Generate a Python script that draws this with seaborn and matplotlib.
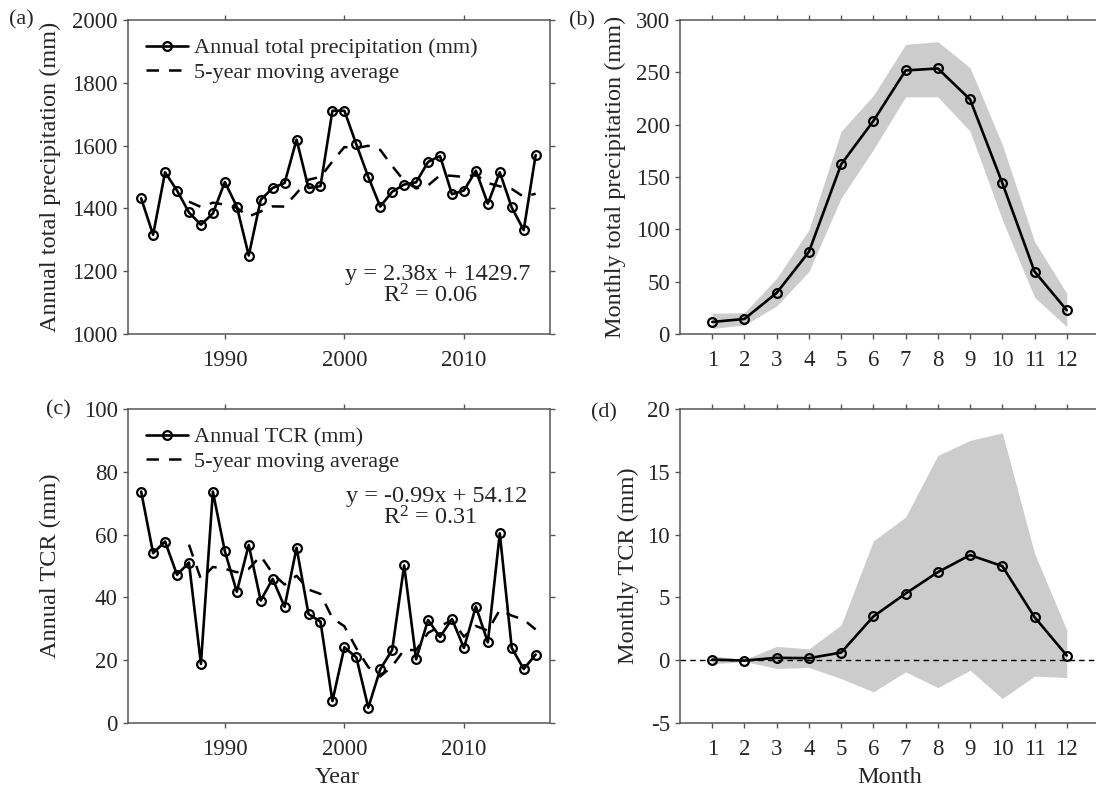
import matplotlib
matplotlib.use("Agg")
import matplotlib.pyplot as plt
import seaborn as sns

# ---------------- data ----------------
years = list(range(1983, 2017))
annual_precip = [1432, 1316, 1515, 1457, 1387, 1348, 1384, 1484, 1406, 1250,
                 1427, 1465, 1481, 1619, 1465, 1471, 1711, 1711, 1604, 1500,
                 1406, 1453, 1476, 1483, 1548, 1567, 1445, 1457, 1520, 1415,
                 1515, 1403, 1331, 1570]
ma_years = list(range(1987, 2017))
precip_ma = [1421.4, 1404.6, 1418.2, 1412.0, 1401.8, 1374.4, 1390.2, 1406.4,
             1405.8, 1448.4, 1491.4, 1500.2, 1549.4, 1595.4, 1592.4, 1599.4,
             1586.4, 1534.8, 1487.8, 1463.6, 1473.2, 1505.4, 1503.8, 1500.0,
             1507.4, 1480.8, 1470.4, 1462.0, 1436.8, 1446.8]
annual_tcr = [73.7, 54.1, 57.8, 47.2, 51.1, 18.8, 73.7, 54.7, 41.8, 56.7,
              39.0, 45.9, 37.0, 55.8, 34.7, 32.3, 7.0, 24.1, 20.9, 4.9,
              17.1, 23.3, 50.2, 20.3, 32.8, 27.4, 33.1, 23.9, 37.1, 25.7,
              60.4, 23.9, 17.2, 21.8]
tcr_ma = [56.8, 45.8, 49.7, 49.1, 48.0, 49.1, 53.2, 47.6, 44.1, 46.9,
          42.5, 41.1, 33.4, 30.8, 23.8, 17.8, 14.8, 18.1, 23.3, 23.2,
          28.7, 30.8, 32.8, 27.5, 30.9, 29.4, 36.0, 34.2, 32.9, 29.8]

months = list(range(1, 13))
monthly_precip = [11.5, 14.4, 39.3, 78.5, 162.1, 203.6, 251.8, 253.7, 224.1, 144.3, 59.7, 22.7]
precip_upper = [19.8, 20.4, 53.3, 99.6, 193.7, 227.9, 276.7, 279.3, 254.4, 181.0, 88.4, 38.9]
precip_lower = [5.4, 8.6, 26.8, 59.7, 129.9, 176.2, 226.6, 226.6, 193.7, 109.2, 35.1, 7.0]
monthly_tcr = [0.05, -0.03, 0.19, 0.16, 0.61, 3.48, 5.31, 7.01, 8.37, 7.49, 3.43, 0.37]
tcr_upper = [0.35, 0.05, 1.1, 0.9, 2.8, 9.5, 11.4, 16.3, 17.5, 18.1, 8.5, 2.4]
tcr_lower = [-0.3, -0.1, -0.66, -0.58, -1.46, -2.52, -0.93, -2.18, -0.8, -3.05, -1.27, -1.38]

eq_a = ["y = 2.38x + 1429.7", r"R$^2$ = 0.06"]
eq_c = ["y = -0.99x + 54.12", r"R$^2$ = 0.31"]

# ---------------- style ----------------
sns.set_theme(style="ticks")
plt.rcParams["font.family"] = ["Liberation Serif", "DejaVu Serif"]
plt.rcParams["mathtext.fontset"] = "custom"
plt.rcParams["mathtext.rm"] = "Liberation Serif"
plt.rcParams["mathtext.default"] = "regular"
plt.rcParams["axes.unicode_minus"] = False

FS_TICK = 16.5
FS_LAB = 17.5
FS_LEG = 16
FS_EQ = 17.5
FS_PANEL = 16
TXT = "#262626"
SPN = "#555555"
BAND = "#cccccc"

W, H = 1096, 791
fig = plt.figure(figsize=(W / 100, H / 100), dpi=100)


def px_axes(left, top, width, height):
    return fig.add_axes([left / W, 1 - (top + height) / H, width / W, height / H])


ax_a = px_axes(128, 20, 422, 314)
ax_b = px_axes(680, 20, 419, 314)
ax_c = px_axes(128, 409, 422, 314)
ax_d = px_axes(680, 409, 419, 314)


def style_axes(ax):
    for s in ax.spines.values():
        s.set_visible(True)
        s.set_color(SPN)
        s.set_linewidth(1.1)
    ax.tick_params(direction="out", length=3.8, width=1.0, color=SPN,
                   top=True, right=True, labelsize=FS_TICK, labelcolor=TXT, pad=3.5)
    ax.tick_params(axis="x", pad=7.5)
    ax.grid(False)
    ax.set_facecolor("white")


line_kw = dict(color="black", linewidth=1.9, marker="o", markersize=6.3,
               markerfacecolor="none", markeredgecolor="black", markeredgewidth=1.6)
ma_kw = dict(color="black", linewidth=1.8, dashes=(5, 4))

# ---- (a) ----
sns.lineplot(x=years, y=annual_precip, ax=ax_a, label="Annual total precipitation (mm)", **line_kw)
sns.lineplot(x=ma_years, y=precip_ma, ax=ax_a, label="5-year moving average", **ma_kw)
ax_a.set_xlim(1981.9, 2017.2)
ax_a.set_ylim(1000, 2000)
ax_a.set_xticks([1990, 2000, 2010])
ax_a.set_yticks(range(1000, 2001, 200))
ax_a.text(2007.8, 1189, eq_a[0], ha="center", va="center", fontsize=FS_EQ, color=TXT)
ax_a.text(2007.2, 1120, eq_a[1], ha="center", va="center", fontsize=FS_EQ, color=TXT)
ax_a.set_ylabel("Annual total precipitation (mm)", fontsize=FS_LAB, color=TXT)
ax_a.set_xlabel("")

# ---- (c) ----
sns.lineplot(x=years, y=annual_tcr, ax=ax_c, label="Annual TCR (mm)", **line_kw)
sns.lineplot(x=ma_years, y=tcr_ma, ax=ax_c, label="5-year moving average", **ma_kw)
ax_c.set_xlim(1981.9, 2017.2)
ax_c.set_ylim(0, 100)
ax_c.set_xticks([1990, 2000, 2010])
ax_c.set_yticks(range(0, 101, 20))
ax_c.text(2007.7, 72.2, eq_c[0], ha="center", va="center", fontsize=FS_EQ, color=TXT)
ax_c.text(2007.2, 65.3, eq_c[1], ha="center", va="center", fontsize=FS_EQ, color=TXT)
ax_c.set_ylabel("Annual TCR (mm)", fontsize=FS_LAB, color=TXT)
ax_c.set_xlabel("Year", fontsize=FS_LAB, color=TXT)

for ax in (ax_a, ax_c):
    leg = ax.legend(loc="upper left", frameon=False, fontsize=FS_LEG, handlelength=1.9,
                    handletextpad=0.25, labelspacing=0.18, borderaxespad=0.4)
    for t in leg.get_texts():
        t.set_color(TXT)

# ---- (b) ----
ax_b.fill_between(months, precip_lower, precip_upper, color=BAND, linewidth=0)
sns.lineplot(x=months, y=monthly_precip, ax=ax_b, **line_kw)
ax_b.set_xlim(0, 13)
ax_b.set_ylim(0, 300)
ax_b.set_xticks(months)
ax_b.set_yticks(range(0, 301, 50))
ax_b.set_ylabel("Monthly total precipitation (mm)", fontsize=FS_LAB, color=TXT)
ax_b.set_xlabel("")

# ---- (d) ----
ax_d.fill_between(months, tcr_lower, tcr_upper, color=BAND, linewidth=0)
ax_d.axhline(0, color="black", linewidth=1.0, dashes=(4, 3))
sns.lineplot(x=months, y=monthly_tcr, ax=ax_d, **line_kw)
ax_d.set_xlim(0, 13)
ax_d.set_ylim(-5, 20)
ax_d.set_xticks(months)
ax_d.set_yticks(range(-5, 21, 5))
ax_d.set_ylabel("Monthly TCR (mm)", fontsize=FS_LAB, color=TXT)
ax_d.set_xlabel("Month", fontsize=FS_LAB, color=TXT)

for ax in (ax_a, ax_b, ax_c, ax_d):
    style_axes(ax)

ax_a.yaxis.set_label_coords(-0.158, 0.5)
ax_c.yaxis.set_label_coords(-0.158, 0.5)
ax_b.yaxis.set_label_coords(-0.130, 0.5)
ax_d.yaxis.set_label_coords(-0.099, 0.5)
ax_c.xaxis.set_label_coords(0.495, -0.140)
ax_d.xaxis.set_label_coords(0.50, -0.140)

# panel letters
for lab, x, y in (("(a)", 9, 20), ("(b)", 569, 21), ("(c)", 46, 410), ("(d)", 591, 413)):
    fig.text(x / W, 1 - y / H, lab, ha="left", va="center", fontsize=FS_PANEL, color=TXT)

fig.savefig("out.png", dpi=100, facecolor="white")
